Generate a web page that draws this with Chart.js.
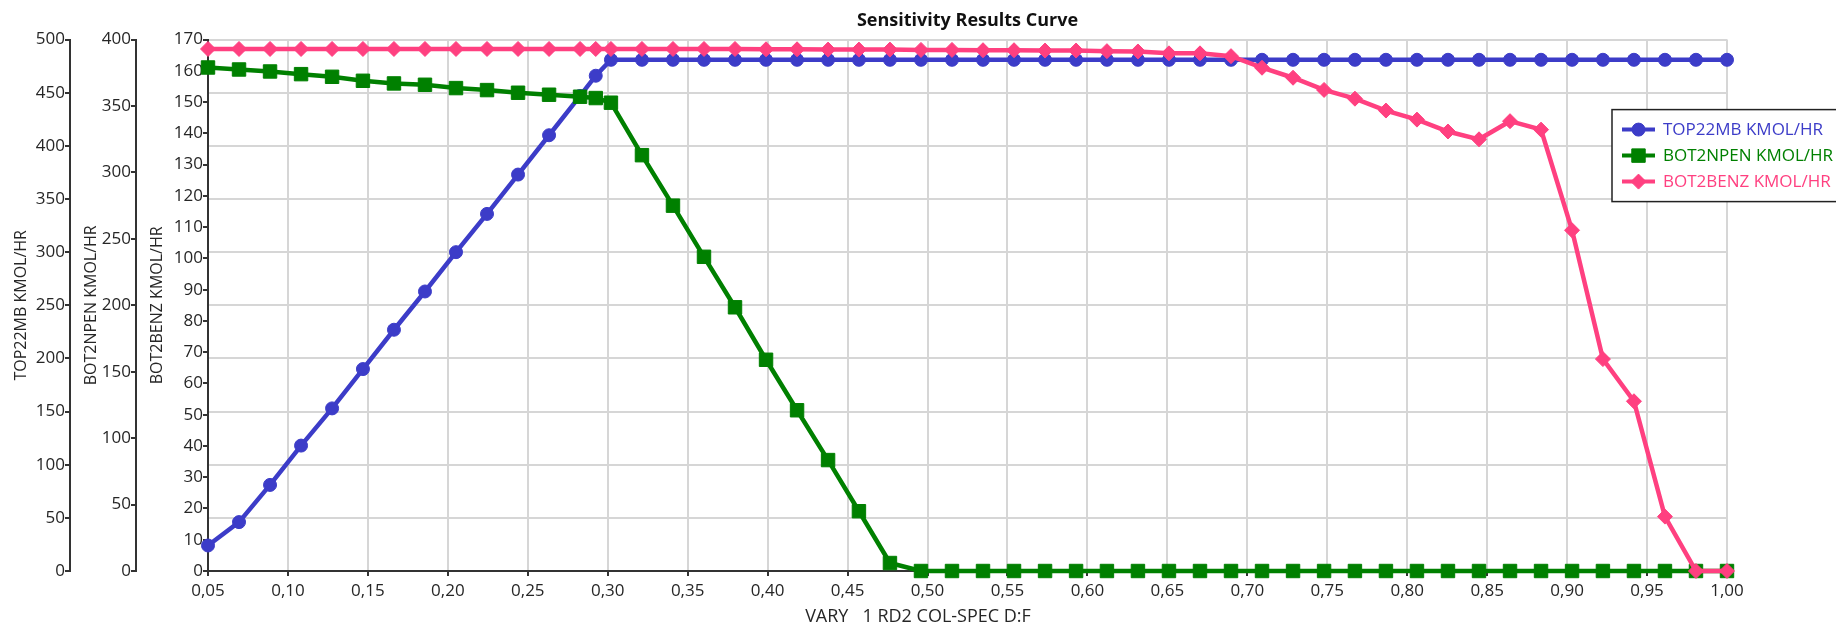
<!DOCTYPE html>
<html>
<head>
<meta charset="utf-8">
<title>Sensitivity Results Curve</title>
<script src="https://cdn.jsdelivr.net/npm/chart.js@4.4.1/dist/chart.umd.min.js"></script>
<style>
  html, body { margin: 0; padding: 0; background: #fff; overflow: hidden; }
</style>
</head>
<body>
<canvas id="chart" width="1836" height="628"></canvas>
<script>
/* Sensitivity results – three flows vs. RD2 D:F spec */

// VARY 1 RD2 COL-SPEC D:F (one extra point near 0,29)
const varyValues = [
  0.05, 0.0694, 0.0888, 0.1082, 0.1276, 0.1469, 0.1663, 0.1857, 0.2051, 0.2245,
  0.2439, 0.2633, 0.2827, 0.2925, 0.302, 0.3214, 0.3408, 0.3602, 0.3796, 0.399,
  0.4184, 0.4378, 0.4571, 0.4765, 0.4959, 0.5153, 0.5347, 0.5541, 0.5735, 0.5929,
  0.6122, 0.6316, 0.651, 0.6704, 0.6898, 0.7092, 0.7286, 0.748, 0.7673, 0.7867,
  0.8061, 0.8255, 0.8449, 0.8643, 0.8837, 0.9031, 0.9224, 0.9418, 0.9612, 0.9806, 1.0
]

// TOP22MB KMOL/HR
const top22mb = [
  24, 46, 81, 118, 153, 190, 227, 263, 300, 336,
  373, 410, 447, 466, 481, 481, 481, 481, 481, 481,
  481, 481, 481, 481, 481, 481, 481, 481, 481, 481,
  481, 481, 481, 481, 481, 481, 481, 481, 481, 481,
  481, 481, 481, 481, 481, 481, 481, 481, 481, 481, 481
]

// BOT2NPEN KMOL/HR
const bot2npen = [
  379, 377.5, 376, 374, 372, 369, 367, 366, 363.5, 362,
  360, 358.5, 357, 356, 352.5, 313, 275, 236.5, 198.5, 159,
  121, 83.5, 45, 6, 0, 0, 0, 0, 0, 0,
  0, 0, 0, 0, 0, 0, 0, 0, 0, 0,
  0, 0, 0, 0, 0, 0, 0, 0, 0, 0, 0
]

// BOT2BENZ KMOL/HR
const bot2benz = [
  167, 167, 167, 167, 167, 167, 167, 167, 167, 167,
  167, 167, 167, 167, 167, 167, 167, 167, 167, 166.9,
  166.9, 166.8, 166.8, 166.8, 166.7, 166.7, 166.6, 166.6, 166.5, 166.5,
  166.3, 166.2, 165.6, 165.6, 164.7, 161, 157.8, 153.9, 151.1, 147.3,
  144.4, 140.6, 138.1, 143.9, 141.2, 109, 67.8, 54.3, 17.4, 0, 0
]

const xRange    = [0.05, 1.0]
const topRange  = [0, 500]
const npenRange = [0, 400]
const benzRange = [0, 170]

const BLUE  = '#3c3cc8'
const GREEN = '#008000'
const PINK  = '#ff4080'
const FONT  = "'Open Sans', 'Noto Sans', sans-serif"

Chart.defaults.font.family = FONT
Chart.defaults.color = '#262626'

const toPoints = arr => varyValues.map((x, i) => ({ x, y: arr[i] }))
const fixWidth = w => scale => { scale.width = w }
const comma = v => Number(v).toFixed(2).replace('.', ',')

function yAxis (range, step, title, weight, width, grid) {
  return {
    type: 'linear',
    position: 'left',
    weight,
    min: range[0],
    max: range[1],
    ticks: { stepSize: step, font: { size: 17 }, padding: 0 },
    grid: {
      display: true,
      drawOnChartArea: grid,
      color: '#d6d6d6',
      lineWidth: 2,
      tickColor: '#333',
      tickLength: 5
    },
    border: { color: '#333', width: 2 },
    title: {
      display: true,
      text: title,
      font: { size: 16 },
      padding: { top: 12, bottom: 0 }
    },
    afterFit: fixWidth(width)
  }
}

// legenda w ramce, nachodzi na wykres jak w oryginale
const legendBox = {
  id: 'legendBox',
  afterDraw (chart) {
    const { ctx, chartArea } = chart
    const x = chartArea.right - 115
    const y = chartArea.top + 70
    ctx.save()
    ctx.fillStyle = '#fff'
    ctx.strokeStyle = '#222'
    ctx.lineWidth = 1.5
    ctx.fillRect(x, y, 400, 92)
    ctx.strokeRect(x, y, 400, 92)
    ctx.font = `17px ${FONT}`
    ctx.textBaseline = 'middle'
    chart.data.datasets.forEach((ds, i) => {
      const cy = y + 20 + i * 26
      ctx.strokeStyle = ds.borderColor
      ctx.lineWidth = 4
      ctx.beginPath()
      ctx.moveTo(x + 10, cy)
      ctx.lineTo(x + 43, cy)
      ctx.stroke()
      ctx.fillStyle = ds.backgroundColor
      ctx.lineWidth = 1
      Chart.helpers?.drawPoint(ctx, {
        pointStyle: ds.pointStyle,
        radius: ds.pointRadius,
        rotation: 0,
        borderWidth: 1
      }, x + 26.5, cy)
      ctx.fillStyle = ds.borderColor
      ctx.fillText(ds.label, x + 51, cy + 1)
    })
    ctx.restore()
  }
}

new Chart(document.getElementById('chart'), {
  type: 'line',
  data: {
    datasets: [{
      label: 'TOP22MB KMOL/HR',
      data: toPoints(top22mb),
      yAxisID: 'yTop',
      borderColor: BLUE,
      backgroundColor: BLUE,
      borderWidth: 4.5,
      pointStyle: 'circle',
      pointRadius: 6.5,
      pointBorderWidth: 1,
      order: 3,
      clip: false
    }, {
      label: 'BOT2NPEN KMOL/HR',
      data: toPoints(bot2npen),
      yAxisID: 'yNpen',
      borderColor: GREEN,
      backgroundColor: GREEN,
      borderWidth: 4.5,
      pointStyle: 'rect',
      pointRadius: 9.5,
      pointBorderWidth: 1,
      order: 2,
      clip: false
    }, {
      label: 'BOT2BENZ KMOL/HR',
      data: toPoints(bot2benz),
      yAxisID: 'yBenz',
      borderColor: PINK,
      backgroundColor: PINK,
      borderWidth: 4.5,
      pointStyle: 'rectRot',
      pointRadius: 7.5,
      pointBorderWidth: 1,
      order: 1,
      clip: false
    }]
  },
  options: {
    responsive: false,
    animation: false,
    devicePixelRatio: 1,
    layout: { padding: 0 },
    elements: { line: { tension: 0 } },
    plugins: {
      legend: { display: false },
      tooltip: { enabled: false },
      title: {
        display: true,
        text: 'Sensitivity Results Curve',
        fullSize: false,
        color: '#111',
        font: { size: 18, weight: 'bold' },
        padding: { top: 10, bottom: 8 }
      },
      subtitle: {
        display: true,
        position: 'bottom',
        text: 'VARY   1 RD2 COL-SPEC D:F',
        font: { size: 18, weight: 'normal' },
        padding: { top: 0, bottom: 0 }
      }
    },
    scales: {
      x: {
        type: 'linear',
        min: xRange[0],
        max: xRange[1],
        ticks: {
          stepSize: 0.05,
          callback: comma,
          font: { size: 17 },
          padding: 5,
          maxRotation: 0,
          autoSkip: false
        },
        grid: { color: '#d6d6d6', lineWidth: 2, tickColor: '#333', tickLength: 5 },
        border: { color: '#333', width: 2 }
      },
      yBenz: yAxis(benzRange, 10, 'BOT2BENZ KMOL/HR', 0, 72, false),
      yNpen: yAxis(npenRange, 50, 'BOT2NPEN KMOL/HR', 1, 66, false),
      yTop:  yAxis(topRange, 50, 'TOP22MB KMOL/HR', 2, 70, true),
      // pusty pas po prawej – miejsce, w które wchodzi legenda
      ySpace: {
        position: 'right',
        display: true,
        ticks: { display: false },
        grid: { display: false, drawTicks: false },
        border: { display: false },
        afterFit: fixWidth(109)
      }
    }
  },
  plugins: [legendBox]
})
</script>
</body>
</html>
